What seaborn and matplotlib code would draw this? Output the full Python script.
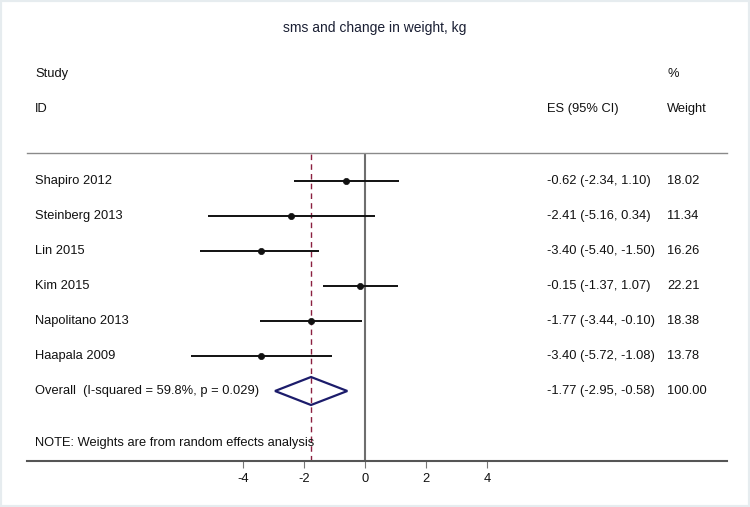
import numpy as np
import pandas as pd
import matplotlib
matplotlib.use("Agg")
import matplotlib.pyplot as plt
import matplotlib.transforms as mtransforms
from matplotlib.patches import Polygon, Rectangle
import seaborn as sns

# donnees
studies = ["Shapiro 2012", "Steinberg 2013", "Lin 2015", "Kim 2015",
           "Napolitano 2013", "Haapala 2009"]
es = [-0.62, -2.41, -3.40, -0.15, -1.77, -3.40]
lo = [-2.34, -5.16, -5.40, -1.37, -3.44, -5.72]
hi = [1.10, 0.34, -1.50, 1.07, -0.10, -1.08]
weights = [18.02, 11.34, 16.26, 22.21, 18.38, 13.78]

overall_label = "Overall  (I-squared = 59.8%, p = 0.029)"
overall_es = -1.77
overall_lo = -2.95
overall_hi = -0.58
overall_weight = 100.00

title = "sms and change in weight, kg"
note = "NOTE: Weights are from random effects analysis"
xticks = [-4, -2, 0, 2, 4]

df = pd.DataFrame({"study": studies, "es": es, "lo": lo, "hi": hi, "weight": weights})
df["row"] = np.arange(len(df))
overall_row = len(df)

sns.set_theme(style="white")
plt.rcParams["font.family"] = ["Liberation Sans", "DejaVu Sans"]

fig = plt.figure(figsize=(7.5, 5.07), dpi=100)
fig.patch.set_facecolor("white")
fig.patches.append(Rectangle((0, 0), 1, 1, transform=fig.transFigure, fill=False,
                             edgecolor="#e6ecef", linewidth=3, zorder=0))

ax = fig.add_axes([27 / 750, 46 / 507, 700 / 750, 308 / 507])
ax.set_facecolor("white")
ax.set_xlim(-11.082, 11.869)
ax.set_ylim(8.0, -0.8)

# lignes de reference
ax.axvline(0, color="#6e6e6e", lw=1.5, zorder=1)
ax.axvline(overall_es, color="#8b2040", lw=1.0, ls=(0, (4, 3)), zorder=1)

# intervalles de confiance
ax.hlines(df["row"], df["lo"], df["hi"], color="#111111", lw=1.4, zorder=2)
sns.scatterplot(data=df, x="es", y="row", ax=ax, color="#111111", s=20,
                edgecolor="#111111", linewidth=0.5, zorder=3, legend=False)

# losange global
h = 0.4
diamond = Polygon([[overall_lo, overall_row], [overall_es, overall_row - h],
                   [overall_hi, overall_row], [overall_es, overall_row + h]],
                  closed=True, fill=False, edgecolor="#1c1c6b", lw=1.6, zorder=4)
ax.add_patch(diamond)

# axes / bordures
for side in ["left", "right"]:
    ax.spines[side].set_visible(False)
for side in ["top", "bottom"]:
    ax.spines[side].set_visible(True)
    ax.spines[side].set_color("#8a8a8a")
ax.spines["top"].set_linewidth(1.0)
ax.spines["bottom"].set_linewidth(1.5)
ax.spines["bottom"].set_color("#555555")
ax.set_yticks([])
ax.set_xticks(xticks)
ax.set_xticklabels([str(t) for t in xticks])
ax.tick_params(axis="x", direction="out", length=5, width=0.8, color="#777777",
               labelsize=9.3, labelcolor="#111111", pad=4, bottom=True)
ax.set_xlabel("")
ax.set_ylabel("")

# textes
trans = mtransforms.blended_transform_factory(ax.transAxes, ax.transData)
x_name = 8 / 700
x_es = 520 / 700
x_w = 640 / 700
fs = 9.3
tc = "#111111"

ax.text(x_name, -3.057, "Study", transform=trans, ha="left", va="center", fontsize=fs, color=tc, clip_on=False)
ax.text(x_name, -2.057, "ID", transform=trans, ha="left", va="center", fontsize=fs, color=tc, clip_on=False)
ax.text(x_es, -2.057, "ES (95% CI)", transform=trans, ha="left", va="center", fontsize=fs, color=tc, clip_on=False)
ax.text(x_w, -3.057, "%", transform=trans, ha="left", va="center", fontsize=fs, color=tc, clip_on=False)
ax.text(x_w, -2.057, "Weight", transform=trans, ha="left", va="center", fontsize=fs, color=tc, clip_on=False)

for _, r in df.iterrows():
    ax.text(x_name, r["row"], r["study"], transform=trans, ha="left", va="center", fontsize=fs, color=tc)
    ax.text(x_es, r["row"], f"{r['es']:.2f} ({r['lo']:.2f}, {r['hi']:.2f})",
            transform=trans, ha="left", va="center", fontsize=fs, color=tc)
    ax.text(x_w, r["row"], f"{r['weight']:.2f}", transform=trans, ha="left", va="center", fontsize=fs, color=tc)

ax.text(x_name, overall_row, overall_label, transform=trans, ha="left", va="center", fontsize=fs, color=tc)
ax.text(x_es, overall_row, f"{overall_es:.2f} ({overall_lo:.2f}, {overall_hi:.2f})",
        transform=trans, ha="left", va="center", fontsize=fs, color=tc)
ax.text(x_w, overall_row, f"{overall_weight:.2f}", transform=trans, ha="left", va="center", fontsize=fs, color=tc)

ax.text(x_name, 7.486, note, transform=trans, ha="left", va="center", fontsize=fs, color=tc)

fig.text(0.5, 1 - 28 / 507, title, ha="center", va="center", fontsize=10, color="#1a1f33")

fig.savefig("out.png", dpi=100, facecolor="white")
